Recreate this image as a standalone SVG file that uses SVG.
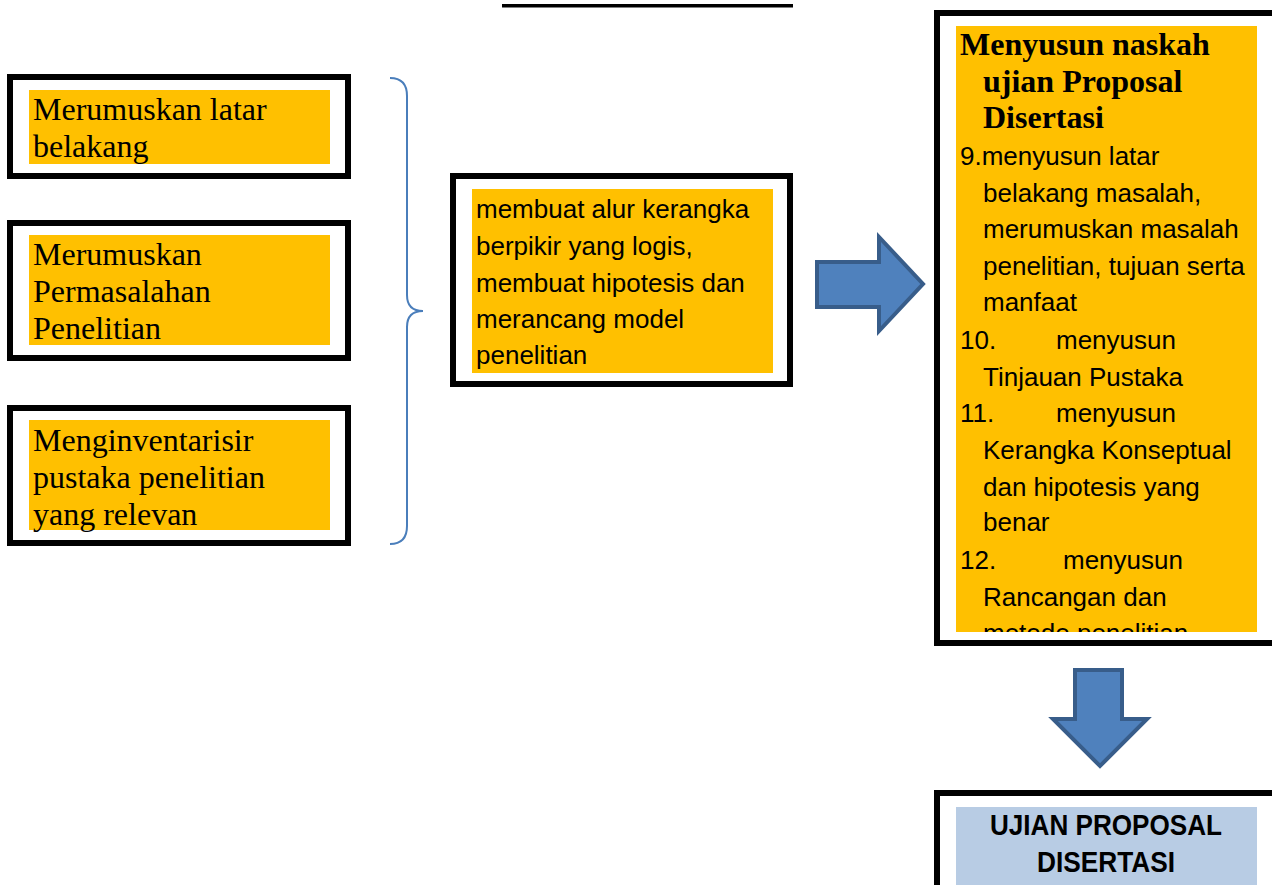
<svg xmlns="http://www.w3.org/2000/svg" width="1272" height="885" viewBox="0 0 1272 885">
<style>
.frame{fill:#ffffff;stroke:#000000;stroke-width:6}
.orange{fill:#ffc000}
.blue{fill:#b8cce4}
.serif{font-family:"Liberation Serif","Times New Roman",serif;font-size:32px;fill:#000}
.serifb{font-family:"Liberation Serif","Times New Roman",serif;font-size:32px;font-weight:bold;fill:#000}
.sans{font-family:"Liberation Sans",Arial,sans-serif;font-size:26px;fill:#000}
.sansb{font-family:"Liberation Sans",Arial,sans-serif;font-size:30px;font-weight:bold;fill:#000}
.arrow{fill:#4f81bd;stroke:#385d8a;stroke-width:4;stroke-linejoin:miter}
.brace{fill:none;stroke:#4a7ebb;stroke-width:2}
</style>
<defs>
<clipPath id="clipR"><rect x="956" y="26" width="301" height="606"/></clipPath>
</defs>
<rect width="1272" height="885" fill="#ffffff"/>
<rect x="502" y="4" width="291" height="3.5" fill="#000"/>

<g id="node-latar">
<rect class="frame" x="10" y="77" width="338" height="99"/>
<rect class="orange" x="29" y="90" width="301" height="74"/>
<text class="serif" x="33" y="120">Merumuskan latar</text>
<text class="serif" x="33" y="157">belakang</text>
</g>

<g id="node-permasalahan">
<rect class="frame" x="10" y="223" width="338" height="135"/>
<rect class="orange" x="29" y="235" width="301" height="110"/>
<text class="serif" x="33" y="265">Merumuskan</text>
<text class="serif" x="33" y="302">Permasalahan</text>
<text class="serif" x="33" y="339">Penelitian</text>
</g>

<g id="node-pustaka">
<rect class="frame" x="10" y="408" width="338" height="135"/>
<rect class="orange" x="29" y="420" width="301" height="110"/>
<text class="serif" x="33" y="451">Menginventarisir</text>
<text class="serif" x="33" y="488">pustaka penelitian</text>
<text class="serif" x="33" y="525">yang relevan</text>
</g>

<g id="node-kerangka">
<rect class="frame" x="453" y="176" width="337" height="208"/>
<rect class="orange" x="472" y="189" width="301" height="184"/>
<text class="sans" x="476" y="218">membuat alur kerangka</text>
<text class="sans" x="476" y="255">berpikir yang logis,</text>
<text class="sans" x="476" y="292">membuat hipotesis dan</text>
<text class="sans" x="476" y="328">merancang model</text>
<text class="sans" x="476" y="364">penelitian</text>
</g>

<g id="node-naskah">
<rect class="frame" x="937" y="13" width="345" height="630"/>
<rect class="orange" x="956" y="26" width="301" height="606"/>
<g clip-path="url(#clipR)">
<text class="serifb" x="960" y="55">Menyusun naskah</text>
<text class="serifb" x="983" y="92">ujian Proposal</text>
<text class="serifb" x="983" y="128">Disertasi</text>
<text class="sans" x="960" y="165">9.menyusun latar</text>
<text class="sans" x="983" y="202">belakang masalah,</text>
<text class="sans" x="983" y="238">merumuskan masalah</text>
<text class="sans" x="983" y="275">penelitian, tujuan serta</text>
<text class="sans" x="983" y="311">manfaat</text>
<text class="sans" x="960" y="349">10.</text>
<text class="sans" x="1056" y="349">menyusun</text>
<text class="sans" x="983" y="386">Tinjauan Pustaka</text>
<text class="sans" x="960" y="422">11.</text>
<text class="sans" x="1056" y="422">menyusun</text>
<text class="sans" x="983" y="459">Kerangka Konseptual</text>
<text class="sans" x="983" y="496">dan hipotesis yang</text>
<text class="sans" x="983" y="531">benar</text>
<text class="sans" x="960" y="569">12.</text>
<text class="sans" x="1063" y="569">menyusun</text>
<text class="sans" x="983" y="606">Rancangan dan</text>
<text class="sans" x="983" y="642">metode penelitian</text>
</g>
</g>

<g id="node-ujian">
<rect class="frame" x="937" y="793" width="345" height="110"/>
<rect class="blue" x="956" y="807" width="301" height="78"/>
<text class="sansb" x="1106" y="835" text-anchor="middle" textLength="232" lengthAdjust="spacingAndGlyphs">UJIAN PROPOSAL</text>
<text class="sansb" x="1106" y="872" text-anchor="middle" textLength="138" lengthAdjust="spacingAndGlyphs">DISERTASI</text>
</g>

<g id="connectors">
<path class="brace" d="M390,78 Q407,78 407,96 L407,295 Q407,311 423,311 Q407,311 407,327 L407,526 Q407,544 390,544"/>
<polygon class="arrow" points="817,262 879,262 879,237 923,284 879,331 879,307 817,307"/>
<polygon class="arrow" points="1075,670 1122,670 1122,719 1147,719 1100,766 1053,719 1075,719"/>
</g>
</svg>
